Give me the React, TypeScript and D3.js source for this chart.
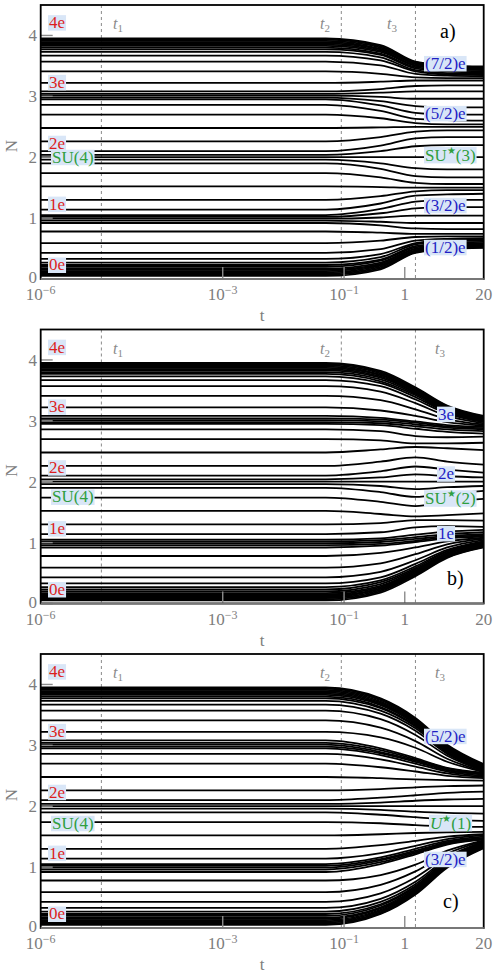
import React, { useLayoutEffect, useRef, useState } from "react";
import * as d3 from "d3";

// Sample times at which every flow curve is tabulated (first two share the starting value).
const tKnots = [1e-6, 0.05, 0.4, 1.5, 5, 20];

// Axis ticks
const xTicks: { v: number; base: string; exp: string }[] = [
  { v: 1e-6, base: "10", exp: "−6" },
  { v: 1e-3, base: "10", exp: "−3" },
  { v: 1e-1, base: "10", exp: "−1" },
  { v: 1, base: "1", exp: "" },
  { v: 20, base: "20", exp: "" },
];
const yTicks = [0, 1, 2, 3, 4];

// Characteristic times
const tMarks = [
  { id: "1", t: 1e-5 },
  { id: "2", t: 0.09 },
  { id: "3", t: 1.5 },
];

// Charge labels on the left (N positions)
const leftCharges = ["4e", "3e", "2e", "1e", "0e"];
const leftChargeN = [4.21, 3.23, 2.23, 1.23, 0.23];

// Each row: [N(start), N(0.4), N(1.5), N(5), N(20)]
const flowA: number[][] = [
  [3.95, 3.84, 3.57, 3.51, 3.49],
  [3.93, 3.82, 3.56, 3.5, 3.48],
  [3.91, 3.8, 3.55, 3.49, 3.47],
  [3.89, 3.78, 3.54, 3.48, 3.46],
  [3.87, 3.77, 3.53, 3.47, 3.45],
  [3.85, 3.75, 3.51, 3.46, 3.44],
  [3.83, 3.73, 3.5, 3.45, 3.43],
  [3.8, 3.7, 3.48, 3.43, 3.41],
  [3.77, 3.68, 3.46, 3.41, 3.39],
  [3.73, 3.64, 3.43, 3.38, 3.37],
  [3.67, 3.59, 3.41, 3.36, 3.35],
  [3.57, 3.51, 3.37, 3.34, 3.33],
  [3.41, 3.37, 3.31, 3.3, 3.3],
  [3.22, 3.24, 3.26, 3.26, 3.26],
  [3.08, 3.12, 3.17, 3.18, 3.18],
  [3.04, 3.06, 3.08, 3.08, 3.08],
  [3.01, 2.99, 2.96, 2.96, 2.96],
  [2.98, 2.92, 2.84, 2.82, 2.82],
  [2.95, 2.85, 2.73, 2.7, 2.7],
  [2.86, 2.76, 2.63, 2.61, 2.6],
  [2.7, 2.64, 2.56, 2.54, 2.54],
  [2.48, 2.49, 2.5, 2.5, 2.5],
  [2.26, 2.33, 2.42, 2.44, 2.44],
  [2.1, 2.19, 2.31, 2.33, 2.33],
  [2.04, 2.1, 2.18, 2.2, 2.2],
  [2.0, 2.0, 2.0, 2.0, 2.0],
  [1.96, 1.9, 1.82, 1.8, 1.8],
  [1.9, 1.81, 1.69, 1.67, 1.67],
  [1.74, 1.67, 1.58, 1.56, 1.56],
  [1.52, 1.51, 1.5, 1.5, 1.5],
  [1.3, 1.36, 1.44, 1.46, 1.46],
  [1.14, 1.24, 1.37, 1.39, 1.4],
  [1.05, 1.15, 1.27, 1.3, 1.3],
  [1.02, 1.08, 1.16, 1.18, 1.18],
  [0.99, 1.01, 1.04, 1.04, 1.04],
  [0.96, 0.94, 0.92, 0.92, 0.92],
  [0.92, 0.88, 0.83, 0.82, 0.82],
  [0.78, 0.76, 0.74, 0.74, 0.74],
  [0.59, 0.63, 0.69, 0.7, 0.7],
  [0.43, 0.49, 0.63, 0.66, 0.67],
  [0.33, 0.41, 0.59, 0.64, 0.65],
  [0.27, 0.36, 0.57, 0.62, 0.63],
  [0.23, 0.32, 0.54, 0.59, 0.61],
  [0.2, 0.3, 0.52, 0.57, 0.59],
  [0.17, 0.27, 0.5, 0.55, 0.57],
  [0.15, 0.25, 0.49, 0.54, 0.56],
  [0.13, 0.23, 0.47, 0.53, 0.55],
  [0.11, 0.22, 0.46, 0.52, 0.54],
  [0.09, 0.2, 0.45, 0.51, 0.53],
  [0.07, 0.18, 0.44, 0.5, 0.52],
  [0.05, 0.16, 0.43, 0.49, 0.51],
];

const flowB: number[][] = [
  [3.95, 3.82, 3.55, 3.25, 3.08],
  [3.93, 3.8, 3.53, 3.24, 3.07],
  [3.91, 3.78, 3.52, 3.23, 3.06],
  [3.89, 3.76, 3.5, 3.22, 3.05],
  [3.87, 3.75, 3.49, 3.21, 3.04],
  [3.85, 3.73, 3.47, 3.19, 3.03],
  [3.83, 3.71, 3.46, 3.18, 3.02],
  [3.8, 3.68, 3.44, 3.17, 3.01],
  [3.77, 3.65, 3.42, 3.15, 3.0],
  [3.73, 3.62, 3.39, 3.14, 2.99],
  [3.67, 3.57, 3.35, 3.12, 2.98],
  [3.57, 3.48, 3.29, 3.08, 2.96],
  [3.41, 3.34, 3.19, 3.03, 2.94],
  [3.22, 3.17, 3.08, 2.98, 2.92],
  [3.08, 3.05, 2.99, 2.93, 2.9],
  [3.04, 3.02, 2.97, 2.91, 2.88],
  [3.01, 2.99, 2.94, 2.89, 2.86],
  [2.98, 2.96, 2.91, 2.86, 2.83],
  [2.95, 2.93, 2.87, 2.82, 2.79],
  [2.86, 2.83, 2.75, 2.73, 2.74],
  [2.7, 2.68, 2.63, 2.63, 2.64],
  [2.48, 2.53, 2.57, 2.55, 2.52],
  [2.26, 2.33, 2.4, 2.33, 2.28],
  [2.1, 2.17, 2.25, 2.2, 2.15],
  [2.04, 2.07, 2.12, 2.09, 2.07],
  [2.0, 2.0, 2.0, 2.0, 2.0],
  [1.96, 1.93, 1.88, 1.91, 1.93],
  [1.9, 1.83, 1.75, 1.8, 1.85],
  [1.74, 1.67, 1.6, 1.67, 1.72],
  [1.52, 1.47, 1.43, 1.45, 1.48],
  [1.3, 1.32, 1.37, 1.37, 1.36],
  [1.14, 1.17, 1.25, 1.27, 1.26],
  [1.05, 1.07, 1.13, 1.18, 1.21],
  [1.02, 1.04, 1.09, 1.14, 1.17],
  [0.99, 1.01, 1.06, 1.11, 1.14],
  [0.96, 0.98, 1.03, 1.09, 1.12],
  [0.92, 0.95, 1.01, 1.07, 1.1],
  [0.78, 0.83, 0.92, 1.02, 1.08],
  [0.59, 0.66, 0.81, 0.97, 1.06],
  [0.43, 0.52, 0.71, 0.92, 1.04],
  [0.33, 0.43, 0.65, 0.88, 1.02],
  [0.27, 0.38, 0.61, 0.86, 1.01],
  [0.23, 0.35, 0.58, 0.85, 1.0],
  [0.2, 0.32, 0.56, 0.83, 0.99],
  [0.17, 0.29, 0.54, 0.82, 0.98],
  [0.15, 0.27, 0.53, 0.81, 0.97],
  [0.13, 0.25, 0.51, 0.79, 0.96],
  [0.11, 0.24, 0.5, 0.78, 0.95],
  [0.09, 0.22, 0.48, 0.77, 0.94],
  [0.07, 0.2, 0.47, 0.76, 0.93],
  [0.05, 0.18, 0.45, 0.75, 0.92],
];

const flowC: number[][] = [
  [3.95, 3.77, 3.45, 3.01, 2.69],
  [3.93, 3.76, 3.43, 2.99, 2.68],
  [3.91, 3.74, 3.41, 2.98, 2.67],
  [3.89, 3.72, 3.4, 2.97, 2.66],
  [3.87, 3.7, 3.38, 2.96, 2.65],
  [3.85, 3.68, 3.37, 2.94, 2.64],
  [3.83, 3.66, 3.35, 2.93, 2.63],
  [3.8, 3.63, 3.33, 2.92, 2.62],
  [3.77, 3.61, 3.31, 2.9, 2.61],
  [3.73, 3.57, 3.28, 2.88, 2.6],
  [3.67, 3.52, 3.24, 2.86, 2.59],
  [3.57, 3.43, 3.17, 2.83, 2.58],
  [3.41, 3.29, 3.07, 2.78, 2.57],
  [3.22, 3.13, 2.96, 2.73, 2.56],
  [3.08, 2.95, 2.79, 2.63, 2.55],
  [3.04, 2.92, 2.77, 2.62, 2.54],
  [3.01, 2.89, 2.75, 2.6, 2.53],
  [2.98, 2.87, 2.73, 2.59, 2.52],
  [2.95, 2.84, 2.7, 2.57, 2.5],
  [2.86, 2.77, 2.65, 2.54, 2.48],
  [2.7, 2.64, 2.57, 2.5, 2.46],
  [2.48, 2.46, 2.44, 2.43, 2.42],
  [2.26, 2.28, 2.31, 2.33, 2.34],
  [2.1, 2.14, 2.18, 2.22, 2.24],
  [2.04, 2.06, 2.09, 2.11, 2.12],
  [2.0, 2.0, 2.0, 2.0, 2.0],
  [1.96, 1.94, 1.91, 1.89, 1.88],
  [1.9, 1.86, 1.82, 1.78, 1.76],
  [1.74, 1.72, 1.69, 1.67, 1.66],
  [1.52, 1.54, 1.56, 1.57, 1.58],
  [1.3, 1.36, 1.43, 1.5, 1.54],
  [1.14, 1.23, 1.35, 1.46, 1.52],
  [1.05, 1.16, 1.3, 1.43, 1.5],
  [1.02, 1.13, 1.27, 1.41, 1.48],
  [0.99, 1.11, 1.25, 1.4, 1.47],
  [0.96, 1.08, 1.23, 1.38, 1.46],
  [0.92, 1.05, 1.21, 1.37, 1.45],
  [0.78, 0.87, 1.04, 1.27, 1.44],
  [0.59, 0.71, 0.93, 1.22, 1.43],
  [0.43, 0.57, 0.83, 1.17, 1.42],
  [0.33, 0.48, 0.76, 1.14, 1.41],
  [0.27, 0.43, 0.72, 1.12, 1.4],
  [0.23, 0.39, 0.69, 1.1, 1.39],
  [0.2, 0.37, 0.67, 1.08, 1.38],
  [0.17, 0.34, 0.65, 1.07, 1.37],
  [0.15, 0.32, 0.63, 1.06, 1.36],
  [0.13, 0.3, 0.62, 1.04, 1.35],
  [0.11, 0.28, 0.6, 1.03, 1.34],
  [0.09, 0.26, 0.59, 1.02, 1.33],
  [0.07, 0.24, 0.57, 1.01, 1.32],
  [0.05, 0.23, 0.55, 0.99, 1.31],
];

// Right-hand fixed-point labels
type RightLabel = { pre: string; star?: boolean; post: string; n: number; kind: "charge" | "sym"; italicPre?: boolean };
const rightLabelsA: RightLabel[] = [
  { pre: "(7/2)e", post: "", n: 3.54, kind: "charge" },
  { pre: "(5/2)e", post: "", n: 2.72, kind: "charge" },
  { pre: "SU", star: true, post: "(3)", n: 2.03, kind: "sym" },
  { pre: "(3/2)e", post: "", n: 1.21, kind: "charge" },
  { pre: "(1/2)e", post: "", n: 0.52, kind: "charge" },
];
const rightLabelsB: RightLabel[] = [
  { pre: "3e", post: "", n: 3.11, kind: "charge" },
  { pre: "2e", post: "", n: 2.13, kind: "charge" },
  { pre: "SU", star: true, post: "(2)", n: 1.72, kind: "sym" },
  { pre: "1e", post: "", n: 1.15, kind: "charge" },
];
const rightLabelsC: RightLabel[] = [
  { pre: "(5/2)e", post: "", n: 3.15, kind: "charge" },
  { pre: "U", star: true, post: "(1)", n: 1.72, kind: "sym", italicPre: true },
  { pre: "(3/2)e", post: "", n: 1.13, kind: "charge" },
];
const su4N = [2.0, 1.75, 1.72];

const W = 495;
const H = 975;
const LEFT = 40.7;
const RIGHT = 483.7;
const PH = 274;
const panelTops = [5, 329.5, 654];
const SERIF = "Liberation Serif, Times New Roman, serif";
const GREY = "#7d7d7d";
const RED = "#dc1e1e";
const BLUE = "#1f1fc4";
const GREEN = "#2f9e3f";
const BOXBG = "#d9e6f7";

function Boxed(props: {
  x: number;
  y: number;
  size: number;
  fill: string;
  anchor?: "start" | "middle" | "end";
  children: React.ReactNode;
  italic?: boolean;
}) {
  const ref = useRef<SVGTextElement>(null);
  const [box, setBox] = useState<{ x: number; y: number; w: number; h: number } | null>(null);
  useLayoutEffect(() => {
    if (ref.current) {
      const b = ref.current.getBBox();
      setBox({ x: b.x, y: b.y, w: b.width, h: b.height });
    }
  }, []);
  return (
    <g>
      {box && <rect x={box.x - 1} y={box.y + 2} width={box.w + 2} height={box.h - 3.5} fill={BOXBG} />}
      <text
        ref={ref}
        x={props.x}
        y={props.y}
        fontSize={props.size}
        fill={props.fill}
        fontFamily={SERIF}
        textAnchor={props.anchor ?? "start"}
        fontStyle={props.italic ? "italic" : "normal"}
      >
        {props.children}
      </text>
    </g>
  );
}

function Panel(props: {
  top: number;
  flows: number[][];
  rightLabels: RightLabel[];
  letter: string;
  letterX: number;
  letterY: number;
  t3LabelX: number;
  su4: number;
  rightX: number[];
  idx: number;
}) {
  const x = d3.scaleLog().domain([1e-6, 20]).range([LEFT, RIGHT]);
  const y = d3.scaleLinear().domain([0, 4.5]).range([PH, 0]);
  const line = d3
    .line<[number, number]>()
    .x((d) => x(d[0]))
    .y((d) => y(d[1]))
    .curve(d3.curveMonotoneX);
  const clipId = `plot-clip-${props.idx}`;
  const tLabelX = [113, 320, props.t3LabelX];

  return (
    <g transform={`translate(0,${props.top})`}>
      <defs>
        <clipPath id={clipId}>
          <rect x={LEFT} y={0} width={RIGHT - LEFT} height={PH} />
        </clipPath>
      </defs>

      {/* characteristic-time markers */}
      {tMarks.map((m) => (
        <line
          key={m.id}
          x1={x(m.t)}
          x2={x(m.t)}
          y1={0}
          y2={PH}
          stroke="#8a8a8a"
          strokeWidth={1}
          strokeDasharray="3,3"
        />
      ))}

      {/* flow curves */}
      <g clipPath={`url(#${clipId})`}>
        {props.flows.map((row, i) => {
          const pts: [number, number][] = [
            [tKnots[0], row[0]],
            [tKnots[1], row[0]],
            [tKnots[2], row[1]],
            [tKnots[3], row[2]],
            [tKnots[4], row[3]],
            [tKnots[5], row[4]],
          ];
          return <path key={i} d={line(pts) ?? ""} fill="none" stroke="#000" strokeWidth={1.8} />;
        })}
      </g>

      {/* inner ticks */}
      {yTicks.map((v) => (
        <line key={v} x1={LEFT} x2={LEFT + 12} y1={y(v)} y2={y(v)} stroke="#8c8c8c" strokeWidth={1.4} />
      ))}
      {xTicks.slice(1, 4).map((tk) => (
        <line key={tk.v} x1={x(tk.v)} x2={x(tk.v)} y1={PH} y2={PH - 12} stroke="#8c8c8c" strokeWidth={1.4} />
      ))}

      {/* frame */}
      <rect x={LEFT} y={0} width={RIGHT - LEFT} height={PH} fill="none" stroke="#000" strokeWidth={1.8} />
      <line x1={LEFT} x2={RIGHT} y1={PH} y2={PH} stroke="#777" strokeWidth={1.8} />

      {/* tick labels */}
      {yTicks.map((v) => (
        <text
          key={v}
          x={37}
          y={y(v)}
          dy={v === 0 ? "0.25em" : "0.35em"}
          fontSize={17}
          fill={GREY}
          fontFamily={SERIF}
          textAnchor="end"
        >
          {v}
        </text>
      ))}
      {xTicks.map((tk) => (
        <text key={tk.v} x={x(tk.v)} y={PH + 21} fontSize={17} fill={GREY} fontFamily={SERIF} textAnchor="middle">
          <tspan>{tk.base}</tspan>
          {tk.exp && (
            <tspan dy={-6} fontSize={12}>
              {tk.exp}
            </tspan>
          )}
        </text>
      ))}
      <text x={262} y={PH + 42} fontSize={17} fill={GREY} fontFamily={SERIF} textAnchor="middle">
        t
      </text>
      <text
        transform={`translate(17,${PH / 2 + 4}) rotate(-90)`}
        fontSize={17}
        fill={GREY}
        fontFamily={SERIF}
        textAnchor="middle"
      >
        N
      </text>

      {/* time labels */}
      {tMarks.map((m, i) => (
        <text
          key={m.id}
          x={tLabelX[i]}
          y={24}
          fontSize={16}
          fill="#8a8a8a"
          fontFamily={SERIF}
          fontStyle="italic"
        >
          t
          <tspan dy={3} fontSize={11} fontStyle="normal">
            {m.id}
          </tspan>
        </text>
      ))}

      {/* charge labels on the left */}
      {leftCharges.map((c, i) => (
        <Boxed key={c} x={49} y={y(leftChargeN[i]) + 5.5} size={17} fill={RED}>
          {c}
        </Boxed>
      ))}
      <Boxed x={52} y={y(props.su4) + 5.5} size={17} fill={GREEN}>
        SU(4)
      </Boxed>

      {/* fixed-point labels on the right */}
      {props.rightLabels.map((lb, i) => (
        <Boxed
          key={i}
          x={props.rightX[i]}
          y={y(lb.n) + 5.5}
          size={17}
          fill={lb.kind === "charge" ? BLUE : GREEN}
        >
          <tspan fontStyle={lb.italicPre ? "italic" : "normal"}>{lb.pre}</tspan>
          {lb.star && (
            <tspan dy={-7} fontSize={10}>
              ★
            </tspan>
          )}
          {lb.star && <tspan dy={7}>{lb.post}</tspan>}
        </Boxed>
      ))}

      <text x={props.letterX} y={props.letterY} fontSize={20} fill="#000" fontFamily={SERIF}>
        {props.letter}
      </text>
    </g>
  );
}

export default function App() {
  return (
    <svg
      width={W}
      height={H}
      viewBox={`0 0 ${W} ${H}`}
      style={{ position: "absolute", left: 0, top: 0, background: "#fff" }}
    >
      <rect x={0} y={0} width={W} height={H} fill="#fff" />
      <Panel
        idx={0}
        top={panelTops[0]}
        flows={flowA}
        rightLabels={rightLabelsA}
        rightX={[425, 425, 425, 425, 425]}
        letter="a)"
        letterX={440}
        letterY={33}
        t3LabelX={387}
        su4={su4N[0]}
      />
      <Panel
        idx={1}
        top={panelTops[1]}
        flows={flowB}
        rightLabels={rightLabelsB}
        rightX={[438, 438, 425, 438]}
        letter="b)"
        letterX={447}
        letterY={255}
        t3LabelX={435}
        su4={su4N[1]}
      />
      <Panel
        idx={2}
        top={panelTops[2]}
        flows={flowC}
        rightLabels={rightLabelsC}
        rightX={[425, 430, 425]}
        letter="c)"
        letterX={443}
        letterY={254}
        t3LabelX={435}
        su4={su4N[2]}
      />
    </svg>
  );
}
